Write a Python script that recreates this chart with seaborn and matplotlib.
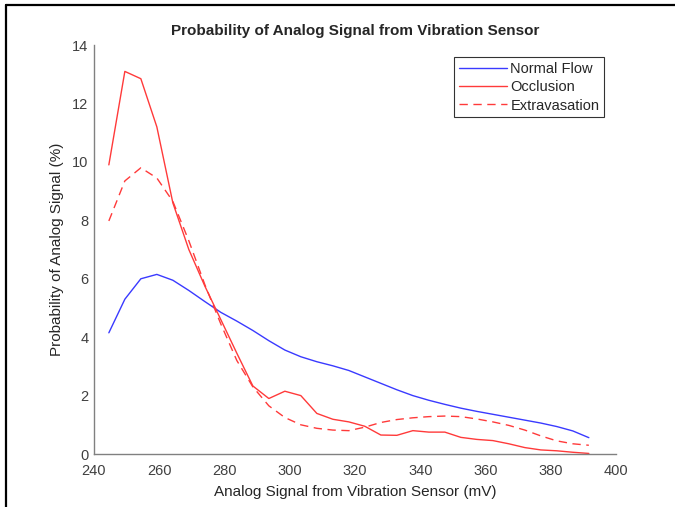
import numpy as np
import pandas as pd
import matplotlib
matplotlib.use("Agg")
import matplotlib.pyplot as plt
import seaborn as sns
from matplotlib.lines import Line2D

# bin centres of the analog signal (mV)
signal_mv = [244.6, 249.5, 254.4, 259.3, 264.2, 269.1, 274.0, 278.9, 283.8, 288.7,
             293.6, 298.5, 303.4, 308.3, 313.2, 318.1, 323.0, 327.9, 332.8, 337.7,
             342.6, 347.5, 352.4, 357.3, 362.2, 367.1, 372.0, 376.9, 381.8, 386.7,
             391.6]

normal_flow = [4.15, 5.30, 6.00, 6.15, 5.95, 5.60, 5.22, 4.85, 4.55, 4.23,
               3.88, 3.56, 3.33, 3.16, 3.02, 2.86, 2.64, 2.42, 2.20, 2.00,
               1.84, 1.70, 1.57, 1.46, 1.36, 1.26, 1.16, 1.06, 0.94, 0.79,
               0.56]

occlusion = [9.90, 13.10, 12.85, 11.20, 8.60, 7.00, 5.75, 4.60, 3.45, 2.33,
             1.90, 2.15, 2.00, 1.39, 1.19, 1.10, 0.95, 0.65, 0.64, 0.80,
             0.75, 0.75, 0.57, 0.50, 0.46, 0.35, 0.22, 0.14, 0.11, 0.06,
             0.02]

extravasation = [7.98, 9.35, 9.80, 9.45, 8.65, 7.30, 5.80, 4.45, 3.20, 2.30,
                 1.65, 1.25, 1.00, 0.88, 0.82, 0.80, 0.92, 1.08, 1.18, 1.24,
                 1.28, 1.30, 1.28, 1.20, 1.10, 0.98, 0.82, 0.62, 0.45, 0.35,
                 0.30]

sns.set_style("white")
plt.rcParams["font.family"] = ["Liberation Sans", "DejaVu Sans"]

fig = plt.figure(figsize=(6.75, 5.07), dpi=100)
ax = fig.add_axes([0.139, 0.1045, 0.774, 0.8065])

series = [
    ("Normal Flow", normal_flow, "#3a3aff", "-"),
    ("Occlusion", occlusion, "#ff3a3a", "-"),
    ("Extravasation", extravasation, "#ff3a3a", "--"),
]
for name, values, color, ls in series:
    df = pd.DataFrame({"x": signal_mv, "y": values})
    line = sns.lineplot(data=df, x="x", y="y", ax=ax, color=color, linestyle=ls,
                        linewidth=1.0, label=name).get_lines()[-1]
    if ls == "--":
        line.set_dashes((6, 4))

ax.set_xlim(240, 400)
ax.set_ylim(0, 14)
ax.set_xticks(np.arange(240, 401, 20))
ax.set_yticks(np.arange(0, 15, 2))

ax.set_title("Probability of Analog Signal from Vibration Sensor",
             fontsize=11, fontweight="bold", pad=7)
ax.set_xlabel("Analog Signal from Vibration Sensor (mV)", fontsize=11,
              color="#262626", labelpad=5)
ax.set_ylabel("Probability of Analog Signal (%)", fontsize=11,
              color="#262626", labelpad=6)

for side in ["top", "right"]:
    ax.spines[side].set_visible(False)
for side in ["left", "bottom"]:
    ax.spines[side].set_color("#808080")
    ax.spines[side].set_linewidth(1.0)
ax.tick_params(direction="in", length=3, width=0.8, color="#404040",
               labelsize=10.5, labelcolor="#404040")
ax.tick_params(axis="x", pad=7)
ax.tick_params(axis="y", pad=4)

leg = ax.legend(loc="upper right", bbox_to_anchor=(0.976, 0.97), fontsize=10.5,
                frameon=True, fancybox=False, handlelength=3.3,
                handletextpad=0.25, borderpad=0.3, labelspacing=0.3,
                borderaxespad=0)
leg.get_frame().set_edgecolor("black")
leg.get_frame().set_linewidth(0.8)
leg.get_lines()[2].set_dashes((6, 4))

# screenshot frame on top and left
fig.add_artist(Line2D([0.009, 1.0], [0.99, 0.99], transform=fig.transFigure,
                      color="black", linewidth=1.6))
fig.add_artist(Line2D([0.009, 0.009], [0.0, 0.99], transform=fig.transFigure,
                      color="black", linewidth=1.6))

fig.savefig("out.png", dpi=100)
